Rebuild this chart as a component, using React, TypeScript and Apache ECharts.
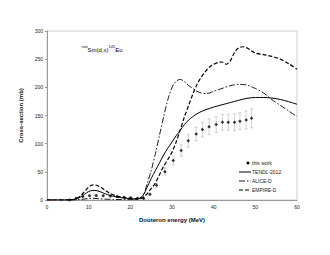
import React, { useEffect, useRef } from "react";
import * as echarts from "echarts";

const xTicks = [0, 10, 20, 30, 40, 50, 60];
const yTicks = [0, 50, 100, 150, 200, 250, 300];
const legendNames = ["this work", "TENDL-2012", "ALICE-D", "EMPIRE-D"];

const tendlE = [0, 5, 6, 7, 8, 9, 10, 11, 12, 13, 14, 15, 16, 17, 18, 19, 20, 21, 22, 23, 24, 25, 26, 27, 28, 29, 30, 31, 32, 33, 34, 35, 36, 37, 38, 40, 42, 44, 46, 48, 50, 52, 54, 56, 58, 60];
const tendlY = [0, 0, 0.5, 2, 5, 10, 15, 17, 16.5, 14, 11, 8.5, 6.5, 5, 4, 3, 2.5, 2, 2.5, 8, 22, 38, 52, 66, 80, 92, 103, 114, 124, 134, 142, 148, 153, 157, 160, 165, 169, 173, 177, 180.5, 182, 182, 181, 178.5, 174.5, 170];

const aliceE = [0, 6, 8, 10, 11, 12, 14, 16, 18, 20, 21, 22, 23, 24, 25, 26, 27, 28, 29, 30, 31, 32, 33, 34, 35, 36, 37, 38, 39, 40, 42, 44, 46, 47, 48, 50, 52, 54, 56, 58, 60];
const aliceY = [0, 0, 1, 2.5, 3, 2.5, 1.5, 1, 0.8, 0.7, 0.8, 2, 6, 28, 52, 82, 115, 148, 178, 200, 211, 214, 210, 203, 198, 193, 190, 189, 190, 193, 198, 203, 205, 205, 204, 198, 190, 178, 168, 158, 148];

const empireE = [0, 4, 6, 7, 8, 9, 10, 11, 12, 13, 14, 15, 16, 17, 18, 19, 20, 21, 22, 23, 24, 25, 26, 27, 28, 29, 30, 31, 32, 33, 34, 35, 36, 37, 38, 39, 40, 41, 42, 43, 44, 45, 46, 47, 48, 49, 50, 52, 54, 56, 58, 60];
const empireY = [0, 0, 0.5, 2, 7, 15, 23, 27, 26, 22, 17, 12, 9, 6.5, 5, 4, 3, 2, 2, 4, 11, 20, 30, 45, 60, 72, 85, 103, 125, 148, 168, 188, 205, 218, 228, 236, 241, 244, 245, 241, 247, 262, 270, 272, 270, 265, 261, 258, 255, 250, 242, 232];

const expE = [5.4, 7.0, 8.6, 10.2, 11.8, 13.5, 15.2, 16.8, 18.5, 20.1, 21.7, 23.2, 24.7, 26.3, 28.3, 30.3, 32.2, 33.9, 35.8, 37.3, 38.9, 40.6, 42.1, 43.5, 45.0, 46.3, 47.8, 49.1];
const expY = [0, 3, 6, 7.5, 8, 7.5, 7, 6, 5, 4, 3, 2.5, 10, 26, 50, 70, 88, 105, 117, 125, 130, 134, 138, 138, 138, 140, 142, 145];
const expErr = [0.5, 1, 1, 1.5, 1.5, 1.5, 1.5, 1, 1, 1, 1, 1, 2, 4, 6, 8, 10, 11, 12, 13, 14, 14, 14, 14, 15, 15, 16, 17];

const FONT = "'Liberation Sans', Arial, sans-serif";

export default function App() {
  const ref = useRef<HTMLDivElement>(null);
  useEffect(() => {
    if (!ref.current) return;
    const chart = echarts.init(ref.current, undefined, { renderer: "svg" });
    const zip = (a: number[], b: number[]) => a.map((x, i) => [x, b[i]]);
    const errData = expE.map((x, i) => [x, expY[i] - expErr[i], expY[i] + expErr[i]]);

    const legX = 239;
    const legY0 = 163;
    const legGap = 9;
    const dashes: any[] = [null, null, [6, 2, 1.5, 2], [4, 2]];
    const widths = [1, 1, 0.9, 1.2];
    const legendGraphics: any[] = [];
    legendNames.forEach((n, i) => {
      const y = legY0 + i * legGap;
      if (i === 0) {
        legendGraphics.push({ type: "circle", shape: { cx: legX + 9, cy: y, r: 1.5 }, style: { fill: "#000" } });
      } else {
        legendGraphics.push({
          type: "line",
          shape: { x1: legX, y1: y, x2: legX + 12, y2: y },
          style: { stroke: "#000", lineWidth: widths[i], lineDash: dashes[i] || undefined },
        });
      }
      legendGraphics.push({
        type: "text",
        x: legX + 13,
        y,
        style: { text: n, fontSize: 5, fill: "#222", fontFamily: FONT, verticalAlign: "middle", align: "left" },
      });
    });

    chart.setOption({
      animation: false,
      textStyle: { fontFamily: FONT },
      title: {
        text: "{sup|nat}{m|Sm(d,x)}{sup|145}{m|Eu}",
        left: 77,
        top: 39,
        textStyle: {
          fontWeight: "normal",
          rich: {
            sup: { fontSize: 4, fontFamily: FONT, color: "#000", fontWeight: "normal", verticalAlign: "top", lineHeight: 9 },
            m: { fontSize: 6, fontFamily: FONT, color: "#000", fontWeight: "normal", verticalAlign: "bottom", lineHeight: 9 },
          },
        },
      },
      grid: {
        left: 47,
        right: 33,
        top: 31,
        bottom: 55,
        show: true,
        borderColor: "#cfcfcf",
        borderWidth: 1,
      },
      graphic: legendGraphics,
      xAxis: {
        type: "value",
        min: xTicks[0],
        max: xTicks[xTicks.length - 1],
        interval: 10,
        name: "Douteron energy (MeV)",
        nameLocation: "middle",
        nameGap: 17,
        nameTextStyle: { fontSize: 6, fontWeight: "bold", color: "#111", fontFamily: FONT },
        axisLine: { lineStyle: { color: "#9a9a9a", width: 1 } },
        axisTick: { show: false },
        axisLabel: { fontSize: 5, color: "#222", margin: 4, fontFamily: FONT },
        splitLine: { show: false },
      },
      yAxis: {
        type: "value",
        min: yTicks[0],
        max: yTicks[yTicks.length - 1],
        interval: 50,
        name: "Cross-section (mb)",
        nameLocation: "middle",
        nameGap: 18,
        nameTextStyle: { fontSize: 6, fontWeight: "bold", color: "#111", fontFamily: FONT },
        axisLine: { show: true, lineStyle: { color: "#9a9a9a", width: 1 } },
        axisTick: { show: true, length: 2, lineStyle: { color: "#9a9a9a" } },
        axisLabel: { fontSize: 5, color: "#222", margin: 4, fontFamily: FONT },
        splitLine: { show: false },
      },
      series: [
        {
          name: "errors",
          type: "custom",
          data: errData,
          z: 1,
          renderItem: (params: any, api: any) => {
            const x = api.value(0);
            const lo = api.coord([x, api.value(1)]);
            const hi = api.coord([x, api.value(2)]);
            const w = 1.5;
            const style = { stroke: "#b5b5b5", lineWidth: 0.6 };
            return {
              type: "group",
              children: [
                { type: "line", shape: { x1: lo[0], y1: lo[1], x2: hi[0], y2: hi[1] }, style },
                { type: "line", shape: { x1: lo[0] - w, y1: lo[1], x2: lo[0] + w, y2: lo[1] }, style },
                { type: "line", shape: { x1: hi[0] - w, y1: hi[1], x2: hi[0] + w, y2: hi[1] }, style },
              ],
            };
          },
        },
        {
          name: legendNames[0],
          type: "scatter",
          data: zip(expE, expY),
          symbol: "diamond",
          symbolSize: 3.5,
          itemStyle: { color: "#000" },
          z: 3,
        },
        {
          name: legendNames[1],
          type: "line",
          data: zip(tendlE, tendlY),
          smooth: 0.3,
          symbol: "none",
          lineStyle: { color: "#000", width: 1 },
        },
        {
          name: legendNames[2],
          type: "line",
          data: zip(aliceE, aliceY),
          smooth: 0.3,
          symbol: "none",
          lineStyle: { color: "#000", width: 0.9, type: [6, 2, 1.5, 2] },
        },
        {
          name: legendNames[3],
          type: "line",
          data: zip(empireE, empireY),
          smooth: 0.3,
          symbol: "none",
          lineStyle: { color: "#000", width: 1.2, type: [4, 2] },
        },
      ],
    });
    return () => chart.dispose();
  }, []);
  return (
    <div
      ref={ref}
      style={{ position: "fixed", left: 0, top: 0, width: 330, height: 255, background: "#fff" }}
    />
  );
}
